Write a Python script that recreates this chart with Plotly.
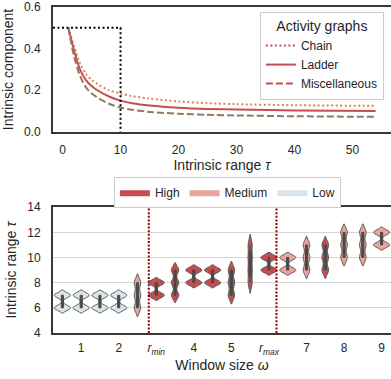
import plotly.graph_objects as go

# ---------------- top panel data ----------------
tau = [1, 2, 3, 4, 5, 6, 8, 10, 12, 15, 20, 25, 30, 40, 54]
chain = [0.50, 0.41, 0.33, 0.28, 0.25, 0.23, 0.20, 0.184, 0.172, 0.160, 0.146, 0.138, 0.133, 0.128, 0.125]
ladder = [0.50, 0.39, 0.30, 0.25, 0.22, 0.20, 0.17, 0.150, 0.138, 0.127, 0.116, 0.110, 0.107, 0.103, 0.100]
misc = [0.50, 0.36, 0.27, 0.215, 0.185, 0.165, 0.135, 0.117, 0.106, 0.096, 0.087, 0.082, 0.079, 0.075, 0.072]
threshold_tau = 10
threshold_comp = 0.5

# ---------------- bottom panel data ----------------
window_labels = ["1", "2", "<i>r</i><sub><i>min</i></sub>", "4", "5",
                 "<i>r</i><sub><i>max</i></sub>", "7", "8", "9"]
violin_levels = ["Low", "Low", "Low", "Low", "Medium", "High",
                 "High", "High", "High", "High", "High", "High",
                 "Medium", "Medium", "High", "Medium", "Medium", "Medium"]
violin_values = [[6, 7], [6, 7], [6, 7], [6, 7], [6, 7, 8], [7, 8],
                 [7, 8, 9], [8, 9], [8, 9], [7, 8, 9], [8, 9, 10, 11], [9, 10],
                 [9, 10], [9, 10, 11], [9, 10, 11], [10, 11, 12], [10, 11, 12], [11, 12]]
violin_bw = [0.2, 0.2, 0.2, 0.2, 0.34, 0.2,
             0.29, 0.2, 0.2, 0.34, 0.42, 0.2,
             0.2, 0.33, 0.33, 0.33, 0.33, 0.2]
r_bounds = [4.6, 11.4]
level_order = ["High", "Medium", "Low"]
level_colors = {"High": "#c84b50", "Medium": "#eca39d", "Low": "#dbe5ec"}

FONT = "Liberation Sans, Arial, sans-serif"
TXT = "#262626"
SPINE = "#383838"

fig = go.Figure()

# ---- top panel curves ----
curve_specs = [("Chain", chain, "#dd8452", "2px,2.5px"),
               ("Ladder", ladder, "#c44e52", "solid"),
               ("Miscellaneous", misc, "#937860", "7px,3px")]
for name, vals, col, dash in curve_specs:
    fig.add_trace(go.Scatter(x=tau, y=vals, mode="lines", showlegend=False,
                             line=dict(color=col, width=2, dash=dash, shape="spline", smoothing=0.8),
                             xaxis="x", yaxis="y"))
# legend handles (red, style only)
for name, vals, col, dash in curve_specs:
    fig.add_trace(go.Scatter(x=[None], y=[None], mode="lines", name=name,
                             line=dict(color="#c44e52", width=2, dash=dash),
                             xaxis="x", yaxis="y", legend="legend"))

x_top_range = [-1.65, 56.65]
fig.add_trace(go.Scatter(x=[x_top_range[0], threshold_tau, threshold_tau],
                         y=[threshold_comp, threshold_comp, 0],
                         mode="lines", showlegend=False,
                         line=dict(color="black", width=2, dash="2px,2.5px"),
                         xaxis="x", yaxis="y"))

# ---- bottom panel violins ----
for i, (lvl, vals, bw) in enumerate(zip(violin_levels, violin_values, violin_bw)):
    fig.add_trace(go.Violin(
        x=[i] * len(vals), y=vals, name=lvl, legendgroup=lvl, showlegend=False,
        bandwidth=bw, spanmode="soft", scalegroup="all", scalemode="width",
        points=False, fillcolor=level_colors[lvl],
        line=dict(color="#5a5a5a", width=1), quartilemethod="exclusive",
        box=dict(visible=True, width=0.13, fillcolor="#4a4a4a", line=dict(color="#4a4a4a", width=1)),
        meanline=dict(visible=False), hoverinfo="skip",
        xaxis="x2", yaxis="y2"))
# legend handles for levels
for rank, lvl in enumerate(level_order):
    fig.add_trace(go.Scatter(x=[None], y=[None], mode="lines", fill="toself", name=lvl,
                             fillcolor=level_colors[lvl], line=dict(width=0, color=level_colors[lvl]),
                             xaxis="x2", yaxis="y2", legend="legend2", legendrank=rank + 1))

for v in r_bounds:
    fig.add_shape(type="line", xref="x2", yref="y2 domain", x0=v, x1=v, y0=0, y1=1,
                  line=dict(color="#8b0000", width=2, dash="2px,1.6px"))

axis_common = dict(showline=True, linecolor=SPINE, linewidth=2, ticks="",
                   tickfont=dict(size=12, color=TXT, family=FONT), zeroline=False)

fig.update_layout(
    width=391, height=379,
    margin=dict(l=53, r=0, t=4, b=46),
    paper_bgcolor="white", plot_bgcolor="white",
    font=dict(family=FONT, color=TXT, size=12),
    violinmode="overlay", violingap=0.14, violingroupgap=0,
    xaxis=dict(domain=[0, 1], range=x_top_range, anchor="y", mirror=True,
               tickvals=[0, 10, 20, 30, 40, 50], showgrid=False, ticklabelstandoff=6,
               title=dict(text="Intrinsic range <i>τ</i>", font=dict(size=14), standoff=3),
               **axis_common),
    yaxis=dict(domain=[0.617, 1], range=[0, 0.6], anchor="x", mirror=False,
               tickvals=[0, 0.2, 0.4, 0.6], tickformat=".1f", showgrid=False, ticklabelstandoff=8,
               title=dict(text="Intrinsic component", font=dict(size=14), standoff=7),
               **axis_common),
    xaxis2=dict(domain=[0, 1], range=[-0.5, 17.5], anchor="y2", mirror=True,
                tickvals=[1, 3, 5, 7, 9, 11, 13, 15, 17], ticktext=window_labels,
                showgrid=False, ticklabelstandoff=3,
                title=dict(text="Window size <i>ω</i>", font=dict(size=14), standoff=1),
                **axis_common),
    yaxis2=dict(domain=[0, 0.386], range=[4, 14], anchor="x2", mirror=False,
                tickvals=[4, 6, 8, 10, 12, 14], showgrid=True, gridcolor="#d6d6d6", gridwidth=1.3,
                ticklabelstandoff=8,
                title=dict(text="Intrinsic range <i>τ</i>", font=dict(size=14), standoff=7),
                **axis_common),
    legend=dict(x=0.979, y=0.985, xanchor="right", yanchor="top",
                bgcolor="white", bordercolor="#cccccc", borderwidth=1,
                font=dict(size=12, color=TXT), tracegroupgap=0,
                title=dict(text="Activity graphs", font=dict(size=14), side="top center")),
    legend2=dict(x=0.516, y=0.432, xanchor="center", yanchor="middle", orientation="h",
                 bgcolor="white", bordercolor="#cccccc", borderwidth=1,
                 font=dict(size=12, color=TXT)),
)

fig.write_html("out.html", post_script="document.body.style.margin='0px';",
               config={"displayModeBar": False})
